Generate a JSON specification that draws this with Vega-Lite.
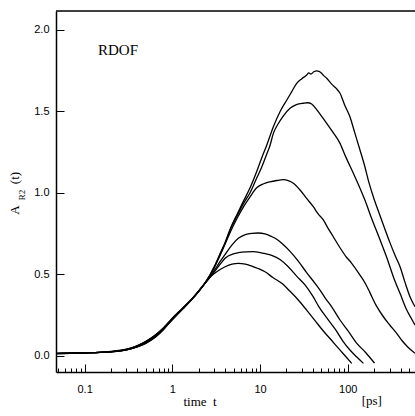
{
  "$schema": "https://vega.github.io/schema/vega-lite/v6.json",
  "width": 359,
  "height": 361,
  "autosize": "none",
  "padding": {"left": 56, "top": 11, "right": 0, "bottom": 44},
  "background": "white",
  "config": {
    "view": {"stroke": null},
    "axis": {
      "grid": false,
      "domainColor": "black",
      "domainWidth": 1.5,
      "tickColor": "black",
      "tickWidth": 1,
      "labelColor": "black",
      "labelFont": "Liberation Sans",
      "labelFontSize": 11
    }
  },
  "datasets": {
    "one": [{"k": 1}],
    "curves": [
      {"s":1,"t":0.0472,"A":0.013},{"s":1,"t":0.07,"A":0.015},{"s":1,"t":0.1,"A":0.017},{"s":1,"t":0.15,"A":0.02},{"s":1,"t":0.2,"A":0.024},{"s":1,"t":0.3,"A":0.036},{"s":1,"t":0.4,"A":0.054},{"s":1,"t":0.5,"A":0.076},{"s":1,"t":0.65,"A":0.116},{"s":1,"t":0.8,"A":0.162},{"s":1,"t":1.0,"A":0.222},{"s":1,"t":1.3,"A":0.285},{"s":1,"t":1.7,"A":0.35},{"s":1,"t":2.0,"A":0.395},{"s":1,"t":2.36,"A":0.445},
      {"s":1,"t":3.0,"A":0.545},{"s":1,"t":3.5,"A":0.625},{"s":1,"t":4.0,"A":0.695},{"s":1,"t":4.55,"A":0.775},{"s":1,"t":5.5,"A":0.87},{"s":1,"t":6.5,"A":0.95},{"s":1,"t":7.7,"A":1.03},{"s":1,"t":9.17,"A":1.13},{"s":1,"t":10.4,"A":1.21},{"s":1,"t":11.9,"A":1.29},{"s":1,"t":14.2,"A":1.405},{"s":1,"t":17,"A":1.5},{"s":1,"t":20.2,"A":1.569},{"s":1,"t":23,"A":1.62},{"s":1,"t":26.2,"A":1.671},{"s":1,"t":30,"A":1.7},{"s":1,"t":34.1,"A":1.722},{"s":1,"t":36,"A":1.735},{"s":1,"t":38,"A":1.728},{"s":1,"t":41,"A":1.742},{"s":1,"t":44.3,"A":1.748},{"s":1,"t":47,"A":1.745},{"s":1,"t":50,"A":1.735},{"s":1,"t":53,"A":1.72},{"s":1,"t":57.6,"A":1.702},{"s":1,"t":66,"A":1.665},{"s":1,"t":74,"A":1.64},{"s":1,"t":81.7,"A":1.61},{"s":1,"t":92,"A":1.54},{"s":1,"t":106,"A":1.466},{"s":1,"t":120,"A":1.37},{"s":1,"t":138,"A":1.262},{"s":1,"t":155,"A":1.17},{"s":1,"t":175,"A":1.06},{"s":1,"t":200,"A":0.96},{"s":1,"t":230,"A":0.87},{"s":1,"t":260,"A":0.79},{"s":1,"t":300,"A":0.7},{"s":1,"t":350,"A":0.61},{"s":1,"t":395,"A":0.546},{"s":1,"t":450,"A":0.45},{"s":1,"t":513,"A":0.362},{"s":1,"t":585,"A":0.3},

      {"s":2,"t":0.0472,"A":0.013},{"s":2,"t":0.07,"A":0.015},{"s":2,"t":0.1,"A":0.017},{"s":2,"t":0.15,"A":0.02},{"s":2,"t":0.2,"A":0.024},{"s":2,"t":0.3,"A":0.036},{"s":2,"t":0.4,"A":0.055},{"s":2,"t":0.5,"A":0.078},{"s":2,"t":0.65,"A":0.118},{"s":2,"t":0.8,"A":0.164},{"s":2,"t":1.0,"A":0.222},{"s":2,"t":1.3,"A":0.285},{"s":2,"t":1.7,"A":0.35},{"s":2,"t":2.0,"A":0.395},{"s":2,"t":2.36,"A":0.445},
      {"s":2,"t":3.0,"A":0.54},{"s":2,"t":3.5,"A":0.62},{"s":2,"t":4.0,"A":0.69},{"s":2,"t":4.55,"A":0.77},{"s":2,"t":5.5,"A":0.86},{"s":2,"t":6.5,"A":0.935},{"s":2,"t":7.7,"A":1.0},{"s":2,"t":9.17,"A":1.09},{"s":2,"t":10.5,"A":1.16},{"s":2,"t":11.9,"A":1.235},{"s":2,"t":13,"A":1.29},{"s":2,"t":14.2,"A":1.364},{"s":2,"t":16,"A":1.42},{"s":2,"t":18.4,"A":1.47},{"s":2,"t":22,"A":1.518},{"s":2,"t":26,"A":1.54},{"s":2,"t":31.2,"A":1.549},{"s":2,"t":35,"A":1.552},{"s":2,"t":38.8,"A":1.544},{"s":2,"t":45,"A":1.505},{"s":2,"t":50,"A":1.472},{"s":2,"t":57.6,"A":1.426},{"s":2,"t":68,"A":1.37},{"s":2,"t":81.7,"A":1.303},{"s":2,"t":95,"A":1.22},{"s":2,"t":116,"A":1.119},{"s":2,"t":135,"A":1.04},{"s":2,"t":157,"A":0.955},{"s":2,"t":188,"A":0.84},{"s":2,"t":234,"A":0.71},{"s":2,"t":280,"A":0.6},{"s":2,"t":331,"A":0.485},{"s":2,"t":400,"A":0.375},{"s":2,"t":471,"A":0.28},{"s":2,"t":530,"A":0.23},{"s":2,"t":585,"A":0.188},

      {"s":3,"t":0.0472,"A":0.013},{"s":3,"t":0.07,"A":0.015},{"s":3,"t":0.1,"A":0.017},{"s":3,"t":0.15,"A":0.02},{"s":3,"t":0.2,"A":0.024},{"s":3,"t":0.3,"A":0.036},{"s":3,"t":0.4,"A":0.056},{"s":3,"t":0.5,"A":0.08},{"s":3,"t":0.65,"A":0.12},{"s":3,"t":0.8,"A":0.166},{"s":3,"t":1.0,"A":0.222},{"s":3,"t":1.3,"A":0.285},{"s":3,"t":1.7,"A":0.35},{"s":3,"t":2.0,"A":0.395},{"s":3,"t":2.36,"A":0.445},
      {"s":3,"t":3.0,"A":0.54},{"s":3,"t":3.5,"A":0.615},{"s":3,"t":4.0,"A":0.685},{"s":3,"t":4.55,"A":0.755},{"s":3,"t":5.5,"A":0.845},{"s":3,"t":6.5,"A":0.915},{"s":3,"t":7.7,"A":0.975},{"s":3,"t":9.17,"A":1.03},{"s":3,"t":11,"A":1.055},{"s":3,"t":13,"A":1.067},{"s":3,"t":15.5,"A":1.075},{"s":3,"t":18.4,"A":1.08},{"s":3,"t":21,"A":1.074},{"s":3,"t":24,"A":1.058},{"s":3,"t":28.6,"A":1.017},{"s":3,"t":34,"A":0.965},{"s":3,"t":40.5,"A":0.914},{"s":3,"t":46,"A":0.87},{"s":3,"t":52.7,"A":0.833},{"s":3,"t":60,"A":0.78},{"s":3,"t":68.5,"A":0.73},{"s":3,"t":80,"A":0.67},{"s":3,"t":95,"A":0.61},{"s":3,"t":111,"A":0.567},{"s":3,"t":138,"A":0.495},{"s":3,"t":160,"A":0.44},{"s":3,"t":178,"A":0.39},{"s":3,"t":210,"A":0.31},{"s":3,"t":255,"A":0.239},{"s":3,"t":300,"A":0.19},{"s":3,"t":362,"A":0.137},{"s":3,"t":420,"A":0.09},{"s":3,"t":480,"A":0.055},{"s":3,"t":585,"A":0.015},

      {"s":4,"t":0.0472,"A":0.014},{"s":4,"t":0.07,"A":0.016},{"s":4,"t":0.1,"A":0.018},{"s":4,"t":0.15,"A":0.021},{"s":4,"t":0.2,"A":0.025},{"s":4,"t":0.3,"A":0.038},{"s":4,"t":0.4,"A":0.06},{"s":4,"t":0.5,"A":0.085},{"s":4,"t":0.65,"A":0.126},{"s":4,"t":0.8,"A":0.17},{"s":4,"t":1.0,"A":0.226},{"s":4,"t":1.3,"A":0.288},{"s":4,"t":1.7,"A":0.352},{"s":4,"t":2.0,"A":0.396},{"s":4,"t":2.36,"A":0.445},
      {"s":4,"t":2.9,"A":0.51},{"s":4,"t":3.5,"A":0.577},{"s":4,"t":3.99,"A":0.62},{"s":4,"t":4.8,"A":0.68},{"s":4,"t":5.66,"A":0.72},{"s":4,"t":6.8,"A":0.743},{"s":4,"t":8.07,"A":0.751},{"s":4,"t":9.5,"A":0.753},{"s":4,"t":11.4,"A":0.748},{"s":4,"t":13.5,"A":0.732},{"s":4,"t":15.5,"A":0.715},{"s":4,"t":17.7,"A":0.69},{"s":4,"t":22,"A":0.64},{"s":4,"t":27.3,"A":0.58},{"s":4,"t":34,"A":0.51},{"s":4,"t":42.4,"A":0.444},{"s":4,"t":48.3,"A":0.403},{"s":4,"t":56,"A":0.35},{"s":4,"t":65.7,"A":0.3},{"s":4,"t":81.7,"A":0.219},{"s":4,"t":101,"A":0.152},{"s":4,"t":127,"A":0.076},{"s":4,"t":160,"A":0.02},{"s":4,"t":202,"A":-0.045},

      {"s":5,"t":0.0472,"A":0.014},{"s":5,"t":0.07,"A":0.016},{"s":5,"t":0.1,"A":0.018},{"s":5,"t":0.15,"A":0.021},{"s":5,"t":0.2,"A":0.025},{"s":5,"t":0.3,"A":0.039},{"s":5,"t":0.4,"A":0.061},{"s":5,"t":0.5,"A":0.086},{"s":5,"t":0.65,"A":0.128},{"s":5,"t":0.8,"A":0.172},{"s":5,"t":1.0,"A":0.228},{"s":5,"t":1.3,"A":0.289},{"s":5,"t":1.7,"A":0.352},{"s":5,"t":2.0,"A":0.396},{"s":5,"t":2.36,"A":0.445},
      {"s":5,"t":2.93,"A":0.505},{"s":5,"t":3.5,"A":0.56},{"s":5,"t":3.99,"A":0.598},{"s":5,"t":4.96,"A":0.625},{"s":5,"t":5.66,"A":0.632},{"s":5,"t":7,"A":0.637},{"s":5,"t":8.4,"A":0.638},{"s":5,"t":10,"A":0.633},{"s":5,"t":11.5,"A":0.626},{"s":5,"t":13.6,"A":0.615},{"s":5,"t":16.9,"A":0.59},{"s":5,"t":21,"A":0.546},{"s":5,"t":26,"A":0.49},{"s":5,"t":32.6,"A":0.434},{"s":5,"t":40,"A":0.365},{"s":5,"t":47,"A":0.3},{"s":5,"t":58,"A":0.23},{"s":5,"t":73,"A":0.158},{"s":5,"t":88,"A":0.09},{"s":5,"t":106,"A":0.035},{"s":5,"t":127,"A":-0.008},{"s":5,"t":151,"A":-0.047},

      {"s":6,"t":0.0472,"A":0.014},{"s":6,"t":0.07,"A":0.016},{"s":6,"t":0.1,"A":0.018},{"s":6,"t":0.15,"A":0.021},{"s":6,"t":0.2,"A":0.026},{"s":6,"t":0.3,"A":0.04},{"s":6,"t":0.4,"A":0.062},{"s":6,"t":0.5,"A":0.088},{"s":6,"t":0.65,"A":0.13},{"s":6,"t":0.8,"A":0.174},{"s":6,"t":1.0,"A":0.23},{"s":6,"t":1.3,"A":0.29},{"s":6,"t":1.7,"A":0.353},{"s":6,"t":2.0,"A":0.397},{"s":6,"t":2.36,"A":0.445},
      {"s":6,"t":2.8,"A":0.49},{"s":6,"t":3.3,"A":0.52},{"s":6,"t":4.0,"A":0.546},{"s":6,"t":4.8,"A":0.562},{"s":6,"t":5.66,"A":0.567},{"s":6,"t":6.8,"A":0.562},{"s":6,"t":8.07,"A":0.549},{"s":6,"t":9.5,"A":0.535},{"s":6,"t":11.4,"A":0.515},{"s":6,"t":14,"A":0.48},{"s":6,"t":17.7,"A":0.444},{"s":6,"t":22,"A":0.395},{"s":6,"t":27.3,"A":0.342},{"s":6,"t":34,"A":0.28},{"s":6,"t":42.4,"A":0.215},{"s":6,"t":53,"A":0.15},{"s":6,"t":65.7,"A":0.093},{"s":6,"t":80,"A":0.04},{"s":6,"t":95,"A":-0.005},{"s":6,"t":111,"A":-0.047}
    ]
  },
  "layer": [
    {
      "data": {"name": "curves"},
      "mark": {"type": "line", "color": "black", "strokeWidth": 1.3, "interpolate": "monotone"},
      "encoding": {
        "x": {
          "field": "t", "type": "quantitative",
          "scale": {"type": "log", "domain": [0.0472, 585], "nice": false},
          "axis": {
            "values": [0.05,0.06,0.07,0.08,0.09,0.1,0.2,0.3,0.4,0.5,0.6,0.7,0.8,0.9,1,2,3,4,5,6,7,8,9,10,20,30,40,50,60,70,80,90,100,200,300,400,500],
            "format": "~g",
            "tickSize": {"condition": {"test": "indexof([0.1,1,10,100], datum.value) >= 0", "value": -8}, "value": -4},
            "labelExpr": "indexof([0.1,1,10,100], datum.value) >= 0 ? datum.label : ''",
            "labelOverlap": false,
            "labelFlush": false,
            "labelPadding": 19,
            "title": "time\u00a0\u00a0t",
            "titleFont": "Liberation Serif",
            "titleFontSize": 13,
            "titleFontWeight": "normal",
            "titleAlign": "left",
            "titleBaseline": "alphabetic",
            "titleX": 127,
            "titleY": 33
          }
        },
        "y": {
          "field": "A", "type": "quantitative",
          "scale": {"domain": [-0.1, 2.115], "nice": false, "zero": false},
          "axis": {
            "values": [0, 0.5, 1, 1.5, 2],
            "format": ".1f",
            "tickSize": -8,
            "labelPadding": 15,
            "title": null
          }
        },
        "detail": {"field": "s"}
      }
    },
    {
      "data": {"name": "one"},
      "mark": {"type": "rule", "color": "black", "strokeWidth": 1.5},
      "encoding": {"y": {"datum": 2.115}}
    },
    {
      "data": {"name": "one"},
      "mark": {"type": "text", "text": "RDOF", "font": "Liberation Serif", "fontSize": 15, "align": "left", "baseline": "alphabetic", "color": "black"},
      "encoding": {"x": {"datum": 0.1422}, "y": {"datum": 1.845}}
    },
    {
      "data": {"name": "one"},
      "mark": {"type": "text", "text": "[ps]", "font": "Liberation Serif", "fontSize": 13, "align": "left", "baseline": "alphabetic", "color": "black"},
      "encoding": {"x": {"datum": 144.4}, "y": {"datum": -0.3025}}
    },
    {
      "data": {"name": "one"},
      "mark": {"type": "text", "text": "A", "font": "Liberation Serif", "fontSize": 13, "align": "center", "baseline": "alphabetic", "angle": 270, "color": "black"},
      "encoding": {"x": {"datum": 0.01787}, "y": {"datum": 0.894}}
    },
    {
      "data": {"name": "one"},
      "mark": {"type": "text", "text": "R2", "font": "Liberation Serif", "fontSize": 9, "align": "center", "baseline": "alphabetic", "angle": 270, "color": "black"},
      "encoding": {"x": {"datum": 0.0209}, "y": {"datum": 0.986}}
    },
    {
      "data": {"name": "one"},
      "mark": {"type": "text", "text": "(t)", "font": "Liberation Serif", "fontSize": 13, "align": "center", "baseline": "alphabetic", "angle": 270, "color": "black"},
      "encoding": {"x": {"datum": 0.0181}, "y": {"datum": 1.09}}
    }
  ]
}
